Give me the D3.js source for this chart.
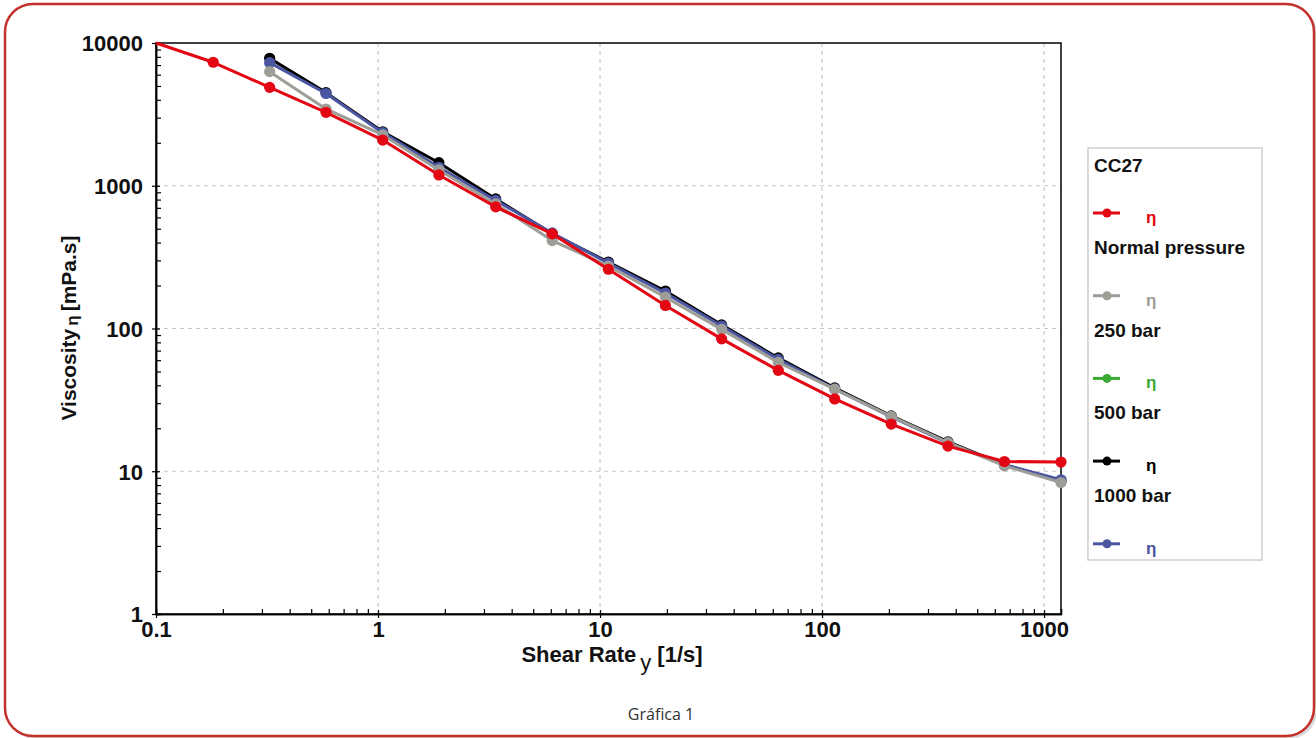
<!DOCTYPE html>
<html>
<head>
<meta charset="utf-8">
<script src="https://cdn.jsdelivr.net/npm/d3@7"></script>
<style>
  body { margin: 0; background: #fff; }
  svg { display: block; }
  text { font-family: "Liberation Sans", Arial, sans-serif; }
</style>
</head>
<body>
<svg id="chart" width="1316" height="738"></svg>
<script>
// shear rate values [1/s] (shared by all series)
var shearRate = [0.181, 0.325, 0.583, 1.05, 1.88, 3.39, 6.09, 10.9, 19.7, 35.3, 63.5, 114, 205, 369, 663, 1192];

// viscosity [mPa.s]
var normalPressure = [7330, 4890, 3270, 2090, 1190, 711, 460, 260, 145, 84.6, 50.9, 32.1, 21.4, 15.0, 11.7, 11.6];
var bar250 = [null, 6300, 3450, 2270, 1290, 746, 413, 274, 166, 98.6, 57.9, 37.6, 24.2, 15.9, 10.9, 8.34];
var bar1000 = [null, 7810, 4490, 2390, 1450, 808, 461, 292, 183, 106, 62.2, 38.4, 24.4, 16.1, 11.1, 8.57];
var bar1000b = [null, 7280, 4430, 2355, 1348, 789, 467, 287, 177, 104, 60.8, 37.8, 24.0, 15.8, 11.1, 8.71];
// red curve begins at the top left corner of the plot
var redStart = [0.1, 10000];

var xTicks = [0.1, 1, 10, 100, 1000];
var yTicks = [1, 10, 100, 1000, 10000];
var legendRows = [
  {label: "η", color: "#e30613", text: "Normal pressure"},
  {label: "η", color: "#9d9e97", text: "250 bar"},
  {label: "η", color: "#3aaa35", text: "500 bar"},
  {label: "η", color: "#000000", text: "1000 bar"},
  {label: "η", color: "#4b56a3", text: null}
];

var svg = d3.select("#chart");

// outer frame
svg.append("rect")
  .attr("x", 7).attr("y", 6).attr("width", 1310).attr("height", 733)
  .attr("rx", 28).attr("fill", "#b5b5b5").attr("opacity", 0.5);
svg.append("rect")
  .attr("x", 5).attr("y", 4).attr("width", 1309).attr("height", 732)
  .attr("rx", 28).attr("fill", "#fff")
  .attr("stroke", "#c4302b").attr("stroke-width", 2.5);

var pLeft = 156, pRight = 1061, pTop = 43, pBottom = 614;

var x = d3.scaleLog().domain([0.1, 1192]).range([pLeft, pRight]);
var y = d3.scaleLog().domain([1, 10000]).range([pBottom, pTop]);

// grid
var grid = svg.append("g");
grid.selectAll(".vg").data(xTicks.slice(1)).enter().append("line")
  .attr("x1", function(d) { return x(d); }).attr("x2", function(d) { return x(d); })
  .attr("y1", pTop).attr("y2", pBottom)
  .attr("stroke", "#c8c8c8").attr("stroke-width", 1.2).attr("stroke-dasharray", "4,4");
grid.selectAll(".hg").data(yTicks.slice(1, -1)).enter().append("line")
  .attr("x1", pLeft).attr("x2", pRight)
  .attr("y1", function(d) { return y(d); }).attr("y2", function(d) { return y(d); })
  .attr("stroke", "#c8c8c8").attr("stroke-width", 1.2).attr("stroke-dasharray", "4,4");

// plot box
svg.append("rect")
  .attr("x", pLeft).attr("y", pTop).attr("width", pRight - pLeft).attr("height", pBottom - pTop)
  .attr("fill", "none").attr("stroke", "#000").attr("stroke-width", 1.5);

// axes
var xMinor = x.ticks().filter(function(d) { return xTicks.indexOf(d) < 0; });
var yMinor = y.ticks().filter(function(d) { return yTicks.indexOf(d) < 0; });

var xAxis = svg.append("g").attr("transform", "translate(0," + pBottom + ")");
xAxis.call(d3.axisBottom(x).tickValues(xMinor).tickSize(-5).tickFormat(""));
var xMajor = svg.append("g").attr("transform", "translate(0," + pBottom + ")");
xMajor.call(d3.axisBottom(x).tickValues(xTicks).tickSizeInner(4).tickSizeOuter(0).tickPadding(3)
  .tickFormat(function(d) { return d < 1 ? String(d) : d3.format("d")(d); }));
xMajor.selectAll(".tick line").attr("y1", -4);

var yAxis = svg.append("g").attr("transform", "translate(" + pLeft + ",0)");
yAxis.call(d3.axisLeft(y).tickValues(yMinor).tickSize(-5).tickFormat(""));
var yMajor = svg.append("g").attr("transform", "translate(" + pLeft + ",0)");
yMajor.call(d3.axisLeft(y).tickValues(yTicks).tickSizeInner(4).tickSizeOuter(0).tickPadding(9)
  .tickFormat(d3.format("d")));
yMajor.selectAll(".tick line").attr("x1", 4);

svg.selectAll(".domain").attr("stroke", "#000").attr("stroke-width", 1.5);
svg.selectAll(".tick line").attr("stroke", "#000").attr("stroke-width", 1.2);
svg.selectAll(".tick text")
  .attr("font-size", 22).attr("font-weight", "bold").attr("fill", "#111")
  .style("font-family", "Liberation Sans, Arial, sans-serif");
yMajor.selectAll(".tick text").attr("dy", "0.36em");

// axis titles
var yt = svg.append("text")
  .attr("transform", "translate(76," + 328 + ") rotate(-90)")
  .attr("text-anchor", "middle").attr("font-size", 21).attr("font-weight", "bold").attr("fill", "#111");
yt.append("tspan").text("Viscosity");
yt.append("tspan").attr("font-size", 17).attr("dy", 2).attr("dx", 3).text("η");
yt.append("tspan").attr("dy", -2).attr("dx", 4).text("[mPa.s]");

var xt = svg.append("text")
  .attr("x", 612).attr("y", 662)
  .attr("text-anchor", "middle").attr("font-size", 22).attr("font-weight", "bold").attr("fill", "#111");
xt.append("tspan").text("Shear Rate");
xt.append("tspan").attr("font-weight", "normal").attr("font-size", 22).attr("dx", 4).attr("dy", 8).text("y");
xt.append("tspan").attr("dx", 6).attr("dy", -8).text("[1/s]");

// series
function pts(vals) {
  var out = [];
  vals.forEach(function(v, i) { if (v != null) out.push([shearRate[i], v]); });
  return out;
}
var series = [
  {data: pts(bar1000), color: "#000000"},
  {data: pts(bar1000b), color: "#4b56a3"},
  {data: pts(bar250), color: "#9d9e97"},
  {data: [redStart].concat(pts(normalPressure)), color: "#e30613", skipFirst: true}
];

var line = d3.line().x(function(d) { return x(d[0]); }).y(function(d) { return y(d[1]); });

series.forEach(function(s) {
  var g = svg.append("g");
  g.append("path").attr("d", line(s.data))
    .attr("fill", "none").attr("stroke", s.color).attr("stroke-width", 3)
    .attr("stroke-linejoin", "round");
  g.selectAll("circle").data(s.skipFirst ? s.data.slice(1) : s.data).enter().append("circle")
    .attr("cx", function(d) { return x(d[0]); })
    .attr("cy", function(d) { return y(d[1]); })
    .attr("r", 5.6).attr("fill", s.color);
});

// legend
var lg = svg.append("g");
lg.append("rect").attr("x", 1088).attr("y", 148).attr("width", 174).attr("height", 412)
  .attr("fill", "#fff").attr("stroke", "#cfcfcf").attr("stroke-width", 1.5);
lg.append("text").attr("x", 1094).attr("y", 172).attr("font-size", 19).attr("font-weight", "bold")
  .attr("fill", "#111").text("CC27");
legendRows.forEach(function(r, i) {
  var cy = 213 + i * 82.7;
  lg.append("line").attr("x1", 1093).attr("x2", 1120).attr("y1", cy).attr("y2", cy)
    .attr("stroke", r.color).attr("stroke-width", 3);
  lg.append("circle").attr("cx", 1107).attr("cy", cy).attr("r", 4.5).attr("fill", r.color);
  lg.append("text").attr("x", 1146).attr("y", cy + 10).attr("font-size", 17).attr("font-weight", "bold")
    .attr("fill", r.color).text(r.label);
  if (r.text) {
    lg.append("text").attr("x", 1094).attr("y", cy + 41).attr("font-size", 19).attr("font-weight", "bold")
      .attr("fill", "#111").text(r.text);
  }
});

// caption
svg.append("text").attr("x", 661).attr("y", 720).attr("text-anchor", "middle")
  .attr("font-size", 16).attr("fill", "#333")
  .style("font-family", "Liberation Sans Narrow, Open Sans, sans-serif")
  .text("Gráfica 1");
</script>
</body>
</html>
